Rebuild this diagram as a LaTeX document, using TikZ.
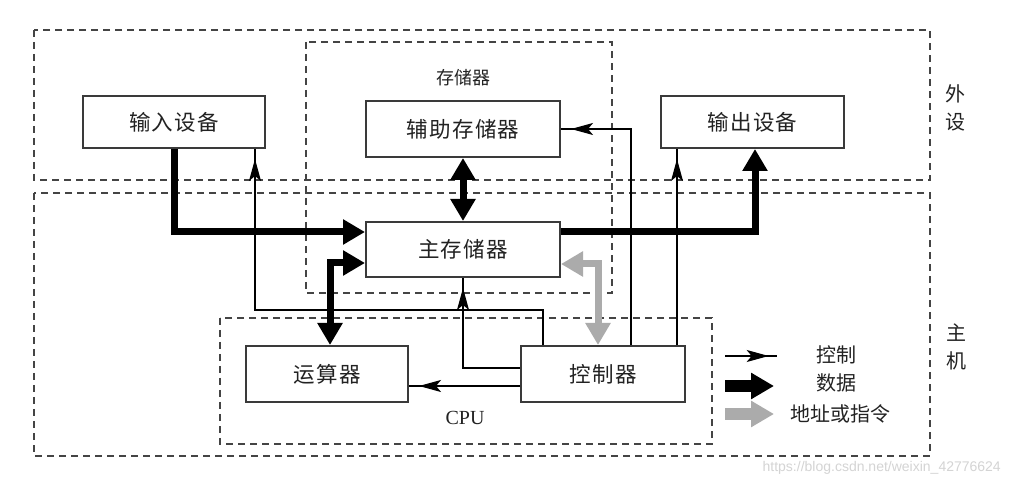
\documentclass[tikz,border=0pt]{standalone}
\usepackage{fontspec}
\setmainfont{Liberation Serif}
\newfontfamily\cjk{Noto Sans CJK SC}
\newfontfamily\cjkbox[LetterSpace=6]{Noto Sans CJK SC}
\newfontfamily\wmfont{Liberation Sans}
\usetikzlibrary{arrows.meta,decorations.markings}
\definecolor{boxc}{HTML}{3A3A3A}
\definecolor{txt}{HTML}{222222}
\definecolor{addrc}{HTML}{ABABAB}
\definecolor{dashc}{HTML}{444444}
\definecolor{wmc}{HTML}{D4D4D4}
\tikzset{
  bigtip/.tip={Triangle[length=22pt,width=24pt]},
  legtip/.tip={Triangle[length=23pt,width=25pt]},
  smalltip/.tip={Stealth[length=22pt,width=12pt,inset=5pt]},
  unitbox/.style={draw=boxc, line width=2pt, fill=white, inner sep=0pt,
    font=\cjkbox\fontsize{21.5}{24}\selectfont, text=txt},
  region/.style={draw=dashc, line width=1.6pt, dash pattern=on 7pt off 5pt},
  dataline/.style={draw=black, line width=7pt, -bigtip},
  databoth/.style={draw=black, line width=7pt, bigtip-bigtip},
  addrboth/.style={draw=addrc, line width=7pt, bigtip-bigtip},
  legdata/.style={draw=black, line width=12pt, -legtip},
  legaddr/.style={draw=addrc, line width=12pt, -legtip},
  ctrlline/.style={draw=black, line width=1.4pt, postaction={decorate},
    decoration={markings, mark=at position -10pt with {\arrow{smalltip}}}},
  ctrllegend/.style={draw=black, line width=1.4pt, postaction={decorate},
    decoration={markings, mark=at position 0.84 with {\arrow{smalltip}}}},
  label/.style={font=\cjk\fontsize{20}{28}\selectfont, text=txt, inner sep=0pt, align=center},
}
\begin{document}
\begin{tikzpicture}[x=1pt,y=-1pt]
\useasboundingbox[fill=white] (0,0) rectangle (1010,486);

% regions
\draw[region] (34,30) rectangle (930,180);
\draw[region] (34,193) rectangle (930,456);
\draw[region] (306,42) rectangle (612,293);
\draw[region] (220,318) rectangle (712,444);

% boxes
\node[unitbox, minimum width=182pt, minimum height=52pt] (in)   at (174,122)   {输入设备};
\node[unitbox, minimum width=194pt, minimum height=56pt] (aux)  at (463,129)   {辅助存储器};
\node[unitbox, minimum width=183pt, minimum height=52pt] (out)  at (752.5,122) {输出设备};
\node[unitbox, minimum width=194pt, minimum height=55pt] (main) at (463,249.5) {主存储器};
\node[unitbox, minimum width=162pt, minimum height=56pt] (alu)  at (327,374)   {运算器};
\node[unitbox, minimum width=164pt, minimum height=56pt] (ctl)  at (603,374)   {控制器};

% labels
\node[label, font=\cjk\fontsize{18}{22}\selectfont] (lmem) at (463,78) {存储器};
\node[label] (lext) at (955,108) {外\\设};
\node[label] (lhost) at (956,347) {主\\机};
\node[font=\fontsize{20}{22}\selectfont, text=txt, inner sep=0pt] (lcpu) at (465,418) {CPU};

% control lines
\draw[ctrlline] (ctl.north -| 543,0) -- (543,310) -| (in.south -| 255,0);
\draw[ctrlline] (ctl.north -| 677,0) -- (out.south -| 677,0);
\draw[ctrlline] (ctl.north -| 631,0) |- (aux.east);
\draw[ctrlline] (ctl.west |- 0,368) -| (main.south);
\draw[ctrlline] (ctl.west |- 0,386) -- (alu.east |- 0,386);

% data lines
\draw[dataline] (in.south) |- (main.west |- 0,232);
\draw[dataline] (main.east |- 0,232) -| (out.south -| 755,0);
\draw[databoth] (aux.south) -- (main.north);
\draw[databoth] (alu.north -| 330,0) |- (main.west |- 0,263);

% address / instruction
\draw[addrboth] (ctl.north -| 598,0) |- (main.east |- 0,264);

% legend
\coordinate (l1a) at (725,356);
\coordinate (l1b) at (777,356);
\coordinate (l2a) at (725,386);
\coordinate (l2b) at (774,386);
\coordinate (l3a) at (725,414);
\coordinate (l3b) at (774,414);
\draw[ctrllegend] (l1a) -- (l1b);
\draw[legdata] (l2a) -- (l2b);
\draw[legaddr] (l3a) -- (l3b);
\node[label] (t1) at (836,355) {控制};
\node[label] (t2) at (836,383) {数据};
\node[label] (t3) at (840,414) {地址或指令};

% watermark
\node[font=\wmfont\fontsize{14}{16}\selectfont, text=wmc, inner sep=0pt, anchor=east] (wm) at (1001,468) {https://blog.csdn.net/weixin\_42776624};
\end{tikzpicture}
\end{document}
